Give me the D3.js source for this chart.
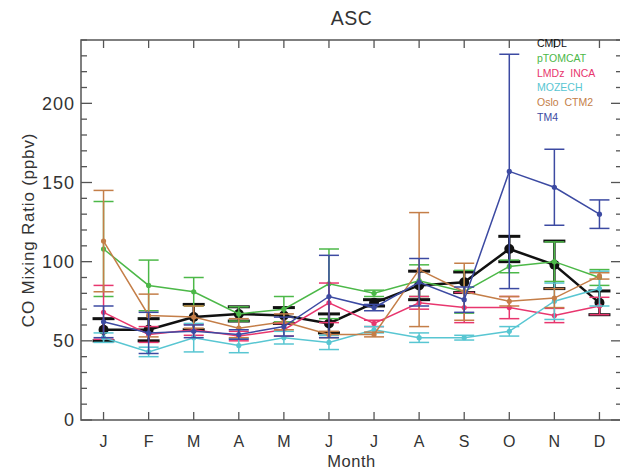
<!DOCTYPE html>
<html>
<head>
<meta charset="utf-8">
<script src="https://cdn.jsdelivr.net/npm/d3@7"></script>
<style>
  body { margin: 0; background: #fff; }
  text { font-family: "Liberation Sans", Arial, sans-serif; fill: #333; }
</style>
</head>
<body>
<svg id="chart" width="620" height="469"></svg>
<script>
// months on x, CO mixing ratio (ppbv) on y
const months = ['J', 'F', 'M', 'A', 'M', 'J', 'J', 'A', 'S', 'O', 'N', 'D'];
const yTicks = [0, 50, 100, 150, 200];

// series: mean and half-width of error bar per month
const cmdl     = [57, 57, 65, 67, 66, 61, 74, 85, 87, 108, 98, 74];
const cmdlErr  = [7, 7, 8, 4.5, 5, 6, 2, 9, 6.5, 8, 15, 7.5];
const ptomcat    = [108, 85, 81, 67, 70, 86, 80, 88, 81, 97, 100, 90];
const ptomcatErr = [30, 16, 9, 4.5, 8, 22, 2, 10, 13.5, 4, 12.5, 5];
const lmdz     = [68, 54, 57, 53, 57, 74, 61, 74, 71, 71, 66, 72];
const lmdzErr  = [17, 5, 3.5, 3, 4, 12.5, 2, 4, 9.5, 7, 4.5, 5.5];
const mozech    = [52, 43, 52, 47, 52, 49, 57, 52, 52, 56, 75, 83];
const mozechErr = [3, 3, 9, 4.5, 4, 4.5, 2, 3, 1.5, 3, 11.5, 11];
const oslo     = [113, 66, 65, 58, 62, 54, 54, 95, 81, 75, 77, 91];
const osloErr  = [32, 13.5, 7, 6, 5, 2, 1.5, 36, 18, 3, 6, 2];
const tm4      = [62, 55, 56, 54, 59, 78, 71, 87, 76, 157, 147, 130];
const tm4Err   = [10, 13, 4, 3, 6, 26, 2, 15, 8, 74, 24, 9];

const seriesNames = ['CMDL', 'pTOMCAT', 'LMDz  INCA', 'MOZECH', 'Oslo  CTM2', 'TM4'];
const seriesColors = ['#111111', '#4cb848', '#e8366e', '#58c6d2', '#c47e48', '#3c4aa2'];

const series = [
  { name: seriesNames[0], color: seriesColors[0], vals: cmdl, err: cmdlErr, obs: true },
  { name: seriesNames[1], color: seriesColors[1], vals: ptomcat, err: ptomcatErr },
  { name: seriesNames[2], color: seriesColors[2], vals: lmdz, err: lmdzErr },
  { name: seriesNames[3], color: seriesColors[3], vals: mozech, err: mozechErr },
  { name: seriesNames[4], color: seriesColors[4], vals: oslo, err: osloErr },
  { name: seriesNames[5], color: seriesColors[5], vals: tm4, err: tm4Err }
];

const svg = d3.select('#chart');
const mLeft = 81, mRight = 622, mTop = 40, mBottom = 420;
const axisColor = '#555';

const x = d3.scaleLinear().domain([0.5, 12.5]).range([mLeft, mRight]);
const y = d3.scaleLinear().domain([0, 240]).range([mBottom, mTop]);

// frame
svg.append('rect')
  .attr('x', mLeft).attr('y', mTop)
  .attr('width', mRight - mLeft).attr('height', mBottom - mTop)
  .attr('fill', 'none').attr('stroke', axisColor).attr('stroke-width', 1.5);

// y ticks (minor every 10, major at 50s) left and right
const minor = d3.range(0, 241, 10);
const g = svg.append('g').attr('stroke', axisColor).attr('stroke-width', 1.3);
minor.forEach(v => {
  const len = v % 50 === 0 ? 11 : 6;
  g.append('line').attr('x1', mLeft).attr('x2', mLeft + len).attr('y1', y(v)).attr('y2', y(v));
  g.append('line').attr('x1', mRight).attr('x2', mRight - len).attr('y1', y(v)).attr('y2', y(v));
});
// x ticks bottom and top
months.forEach((m, i) => {
  g.append('line').attr('x1', x(i + 1)).attr('x2', x(i + 1)).attr('y1', mBottom).attr('y2', mBottom - 8);
  g.append('line').attr('x1', x(i + 1)).attr('x2', x(i + 1)).attr('y1', mTop).attr('y2', mTop + 8);
});

svg.append('g').selectAll('text').data(yTicks).join('text')
  .attr('x', mLeft - 6).attr('y', d => y(d)).attr('dy', '0.36em')
  .attr('text-anchor', 'end').attr('font-size', 18).attr('letter-spacing', 1)
  .text(d => d);

svg.append('g').selectAll('text').data(months).join('text')
  .attr('x', (d, i) => x(i + 1)).attr('y', 447)
  .attr('text-anchor', 'middle').attr('font-size', 16)
  .text(d => d);

svg.append('text').attr('x', (mLeft + mRight) / 2).attr('y', 467)
  .attr('text-anchor', 'middle').attr('font-size', 16.5).attr('letter-spacing', 0.5).text('Month');

svg.append('text')
  .attr('transform', `translate(34,${(mTop + mBottom) / 2}) rotate(-90)`)
  .attr('text-anchor', 'middle').attr('font-size', 17).attr('letter-spacing', 0.8)
  .text('CO Mixing Ratio (ppbv)');

svg.append('text').attr('x', (mLeft + mRight) / 2).attr('y', 25)
  .attr('text-anchor', 'middle').attr('font-size', 19.5).attr('letter-spacing', 0.5).text('ASC');

// data
const line = d3.line().x((d, i) => x(i + 1)).y(d => y(d));

series.forEach(s => {
  const sg = svg.append('g');
  const lw = s.obs ? 3 : 1.5;
  const cap = s.obs ? 11 : 10;
  s.vals.forEach((v, i) => {
    const cx = x(i + 1), lo = y(v - s.err[i]), hi = y(v + s.err[i]);
    sg.append('line').attr('x1', cx).attr('x2', cx).attr('y1', lo).attr('y2', hi)
      .attr('stroke', s.color).attr('stroke-width', s.obs ? 2.5 : 1.5);
    [lo, hi].forEach(yy => sg.append('line')
      .attr('x1', cx - cap).attr('x2', cx + cap).attr('y1', yy).attr('y2', yy)
      .attr('stroke', s.color).attr('stroke-width', lw));
  });
  sg.append('path').datum(s.vals).attr('d', line)
    .attr('fill', 'none').attr('stroke', s.color).attr('stroke-width', s.obs ? 2.5 : 1.5);
  sg.selectAll('circle').data(s.vals).join('circle')
    .attr('cx', (d, i) => x(i + 1)).attr('cy', d => y(d))
    .attr('r', s.obs ? 5 : 2.6).attr('fill', s.color);
});

// legend
svg.append('g').selectAll('text').data(series).join('text')
  .attr('x', 537).attr('y', (d, i) => 47 + i * 14.8)
  .attr('font-size', 10.5).attr('xml:space', 'preserve')
  .style('fill', d => d.color).style('white-space', 'pre')
  .text(d => d.name);
</script>
</body>
</html>
